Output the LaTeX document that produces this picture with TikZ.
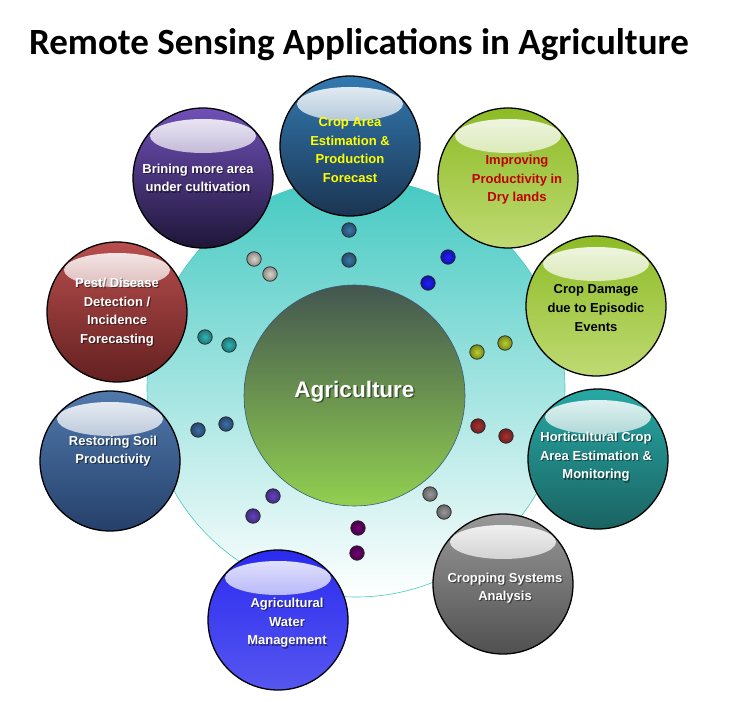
\documentclass[tikz,border=0pt]{standalone}
\usepackage{fontspec}
\setmainfont{Liberation Sans}
\newfontfamily\titlefont{Carlito}
\usetikzlibrary{positioning,calc,fadings}

\definecolor{ringteal}{HTML}{45C9C2}
\definecolor{hubT}{HTML}{435650}
\definecolor{hubB}{HTML}{92D050}
\definecolor{hubline}{HTML}{3A5A7A}
\definecolor{cropT}{HTML}{3279B0}
\definecolor{cropB}{HTML}{1B3552}
\definecolor{limeT}{HTML}{8DBB25}
\definecolor{limeB}{HTML}{BFDA73}
\definecolor{hortT}{HTML}{27A8A4}
\definecolor{hortB}{HTML}{1A6362}
\definecolor{graysT}{HTML}{999999}
\definecolor{graysB}{HTML}{505050}
\definecolor{waterT}{HTML}{2B2BF0}
\definecolor{waterB}{HTML}{5656F0}
\definecolor{soilT}{HTML}{5079AC}
\definecolor{soilB}{HTML}{25406A}
\definecolor{pestT}{HTML}{B84E4E}
\definecolor{pestB}{HTML}{642020}
\definecolor{brinT}{HTML}{7050B8}
\definecolor{brinB}{HTML}{1E1638}
\definecolor{textyellow}{HTML}{FFFF00}
\definecolor{textred}{HTML}{C00000}
\definecolor{beadsteel}{HTML}{3A78A8}
\definecolor{beadlight}{HTML}{D9D5CD}
\definecolor{beadblue}{HTML}{1E1EFF}
\definecolor{beadlime}{HTML}{B8CF2A}
\definecolor{beadred}{HTML}{A83232}
\definecolor{beadgray}{HTML}{9A9A9A}
\definecolor{beadplum}{HTML}{6E0070}
\definecolor{beadviolet}{HTML}{6443C0}
\definecolor{beadsoil}{HTML}{3C6EA6}
\definecolor{beadteal}{HTML}{2FB5B5}

\tikzfading[name=gloss,top color=transparent!8,bottom color=transparent!92]

\tikzset{
	bubble/.style 2 args={circle,draw=black,line width=1.3pt,minimum size=140pt,inner sep=0pt,top color=#1,bottom color=#2,
		path picture={\fill[white,path fading=gloss] ([yshift=42pt]path picture bounding box.center) ellipse (53pt and 17pt);}},
	bead/.style={circle,draw=black!85,line width=0.7pt,minimum size=14.5pt,inner sep=0pt,inner color=#1,outer color=#1!65!black},
	lbl/.style={font=\bfseries\fontsize{13}{18.6}\selectfont,align=center,inner sep=0pt},
	ring/.style={circle,draw=ringteal,line width=0.6pt,minimum size=418pt,inner sep=0pt,top color=ringteal,bottom color=white},
	hub/.style={circle,draw=hubline,line width=0.6pt,minimum size=221pt,inner sep=0pt,top color=hubT,bottom color=hubB},
}

\begin{document}
\begin{tikzpicture}[x=1pt,y=-1pt]
	\useasboundingbox (0,0) rectangle (729,715);
	\node[font=\titlefont\bfseries\fontsize{37}{40}\selectfont] (title) at (359,45) {Remote Sensing Applications in Agriculture};
	\node[ring] (field) at (356,388) {};
	\node[hub] (agri) at (354.5,395.5) {};
	\node[font=\bfseries\fontsize{22.5}{26}\selectfont,text=black,text opacity=0.45] at ([shift={(1.5,-2.5)}]agri) {Agriculture};
	\node[font=\bfseries\fontsize{22.5}{26}\selectfont,text=white] (agri-txt) at ([shift={(0,-4)}]agri) {Agriculture};
	% beads between hub and bubbles
	\foreach \x/\y/\c [count=\i] in {349/230/beadsteel,349/260/beadsteel,448/257/beadblue,428/283/beadblue,
		477/352/beadlime,505/343/beadlime,478/426/beadred,506/436/beadred,430/494/beadgray,444/512/beadgray,
		358/528/beadplum,357/553/beadplum,273/496/beadviolet,253/516/beadviolet,226/424/beadsoil,198/430/beadsoil,
		229/345/beadteal,205/337/beadteal,254/259/beadlight,270/274/beadlight}
		\node[bead=\c] (b\i) at (\x,\y) {};
	% application bubbles
	\foreach \n/\x/\y/\ct/\cb/\dx/\dy/\tc/\sh/\txt in {
		crop/350/146/cropT/cropB/0/4/textyellow/0/{Crop Area\\Estimation \&\\Production\\Forecast},
		dry/508/178/limeT/limeB/9/2/textred/0/{Improving\\Productivity in\\Dry lands},
		damage/596/306/limeT/limeB/0/2/black/0/{Crop Damage\\due to Episodic\\Events},
		horti/598/459/hortT/hortB/-2/-2/white/0.45/{Horticultural Crop\\Area Estimation \&\\Monitoring},
		cropsys/503/584/graysT/graysB/2/4/white/0.45/{Cropping Systems\\Analysis},
		water/278/620/waterT/waterB/9/3/white/0.45/{Agricultural\\Water\\Management},
		soil/110/461/soilT/soilB/3/-10/white/0.45/{Restoring Soil\\Productivity},
		pest/117/312/pestT/pestB/0/0/white/0.45/{Pest/ Disease\\Detection /\\Incidence\\Forecasting},
		cultiv/203/178/brinT/brinB/-5/0/white/0.45/{Brining more area\\under cultivation}}{
		\node[bubble={\ct}{\cb}] (\n) at (\x,\y) {};
		\node[lbl,text=black,text opacity=\sh] at ([shift={(\dx+1.2,\dy+1.2)}]\n) {\txt};
		\node[lbl,text=\tc] (\n-txt) at ([shift={(\dx,\dy)}]\n) {\txt};
	}
\end{tikzpicture}
\end{document}
